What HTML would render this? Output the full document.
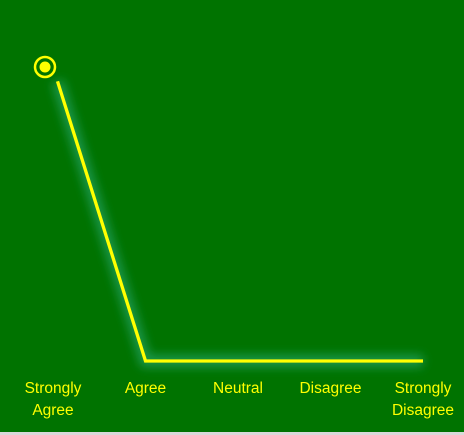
<!DOCTYPE html>
<html><head><meta charset="utf-8"><style>
html,body{margin:0;padding:0;background:#d9d9d9}
svg{display:block}
text{font-family:"Liberation Sans",sans-serif;font-size:15.5px;fill:#ffff00}
</style></head><body>
<svg width="464" height="435">
<defs><filter id="glow" x="-20%" y="-20%" width="140%" height="140%"><feGaussianBlur stdDeviation="5"/></filter></defs>
<rect x="0" y="0" width="464" height="432" fill="#007300"/>
<g id="plot"></g>
<g id="labels"></g>
</svg>
<script>
const categories=["Strongly Agree","Agree","Neutral","Disagree","Strongly Disagree"];
const values=[100,0,0,0,0];
const xs=i=>53+i*92.5;
const ys=v=>361-v*2.94;
const ns="http://www.w3.org/2000/svg";
const plot=document.getElementById('plot'),lab=document.getElementById('labels');
let pts=values.map((v,i)=>[xs(i),ys(v)]);
let a=pts[0],b=pts[1];let t=15/Math.hypot(b[0]-a[0],b[1]-a[1]);
let start=[a[0]+(b[0]-a[0])*t,a[1]+(b[1]-a[1])*t];
let d="M"+start.join(",")+pts.slice(1).map(p=>"L"+p.join(",")).join("");
const glow=document.createElementNS(ns,'path');
glow.setAttribute('d',d);glow.setAttribute('stroke','#20a060');glow.setAttribute('stroke-width','12');glow.setAttribute('fill','none');glow.setAttribute('filter','url(#glow)');glow.setAttribute('opacity','0.8');


plot.appendChild(glow);
const line=document.createElementNS(ns,'path');
line.setAttribute('d',d);line.setAttribute('stroke','#ffff00');line.setAttribute('stroke-width','3.3');line.setAttribute('fill','none');


plot.appendChild(line);
const mx=pts[0][0]-8,my=pts[0][1];
const ring=document.createElementNS(ns,'circle');
ring.setAttribute('cx',mx);ring.setAttribute('cy',my);ring.setAttribute('r','10');ring.setAttribute('fill','none');ring.setAttribute('stroke','#ffff00');ring.setAttribute('stroke-width','2.5');


plot.appendChild(ring);
const dot=document.createElementNS(ns,'circle');
dot.setAttribute('cx',mx);dot.setAttribute('cy',my);dot.setAttribute('r','5.5');dot.setAttribute('fill','#ffff00');


plot.appendChild(dot);
categories.forEach((c,i)=>{
 const words=c.split(' ');
 const tx=document.createElementNS(ns,'text');
 tx.setAttribute('text-anchor','middle');
 
 
 words.forEach((w,j)=>{const ts=document.createElementNS(ns,'tspan');ts.setAttribute('x',xs(i));ts.setAttribute('y',393+j*22);ts.textContent=w;tx.appendChild(ts);});
 lab.appendChild(tx);
});
</script>
</body></html>
